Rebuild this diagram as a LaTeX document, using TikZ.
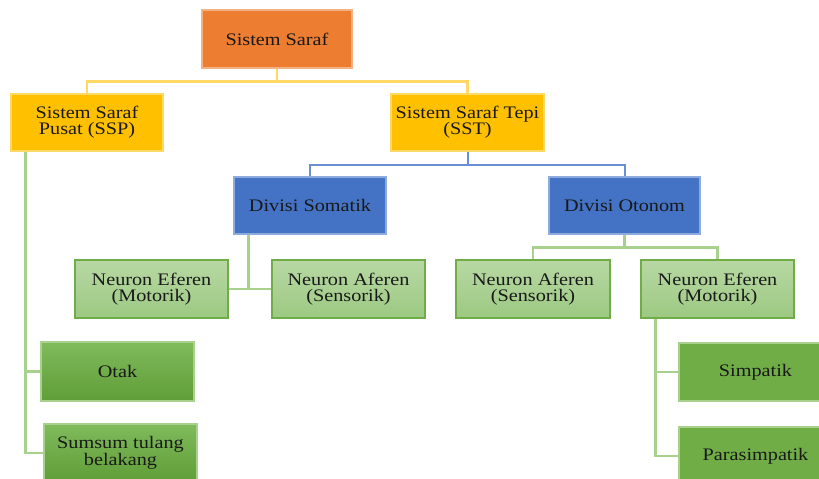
\documentclass[tikz,border=0pt]{standalone}
\usepackage{fontspec}
\setmainfont{Liberation Serif}[FakeStretch=1.15]
\begin{document}
\begin{tikzpicture}[x=1pt,y=-1pt,
  box/.style={rectangle, minimum width=153pt, minimum height=58pt, inner sep=0pt,
    align=center, line width=1.2pt, text=black!90,
    font=\fontsize{17.6}{16}\selectfont},
  rootbox/.style={box, fill=orangeF, draw=orangeB, minimum width=150pt},
  mainbox/.style={box, fill=yellowF, draw=yellowB, minimum height=57pt},
  divbox/.style={box, fill=blueF, draw=blueB, minimum height=57pt},
  neubox/.style={box, top color=lgTop, bottom color=lgBot, draw=lgB},
  organbox/.style={box, top color=dgTop, bottom color=dgBot, draw=dgB, minimum height=59pt},
  leafbox/.style={box, fill=dgFlat, draw=dgB},
  yline/.style={draw=yellowL, line width=2.6pt},
  bline/.style={draw=blueL, line width=2pt},
  gline/.style={draw=greenL, line width=2.4pt}
]
\definecolor{orangeF}{HTML}{ED7D31}
\definecolor{orangeB}{HTML}{F4B183}
\definecolor{yellowF}{HTML}{FFC000}
\definecolor{yellowB}{HTML}{FFD966}
\definecolor{yellowL}{HTML}{FFD966}
\definecolor{blueF}{HTML}{4472C4}
\definecolor{blueB}{HTML}{8FAADC}
\definecolor{blueL}{HTML}{6A8FD3}
\definecolor{lgTop}{HTML}{B8D8A4}
\definecolor{lgBot}{HTML}{9CC982}
\definecolor{lgB}{HTML}{70AD47}
\definecolor{dgTop}{HTML}{80BA5C}
\definecolor{dgBot}{HTML}{5F9E37}
\definecolor{dgFlat}{HTML}{70AD47}
\definecolor{dgB}{HTML}{A9D18E}
\definecolor{greenL}{HTML}{A9D18E}

\useasboundingbox (0,0) rectangle (819,479);
\clip (0,0) rectangle (819,479);

% tree nodes
\node[rootbox] (saraf) at (277,39) {Sistem Saraf};
\node[mainbox, minimum width=152pt] (ssp) at (87,122.5) {Sistem Saraf\\Pusat (SSP)};
\node[mainbox] (sst) at (467.5,122.5) {Sistem Saraf Tepi\\(SST)};
\node[divbox, minimum width=152pt] (somatik) at (310,205.5) {Divisi Somatik};
\node[divbox, minimum width=151pt] (otonom) at (624.5,205.5) {Divisi Otonom};
\node[neubox] (eferenA) at (151.5,289) {Neuron Eferen\\(Motorik)};
\node[neubox] (aferenA) at (348.5,289) {Neuron Aferen\\(Sensorik)};
\node[neubox, minimum width=154pt] (aferenB) at (533,289) {Neuron Aferen\\(Sensorik)};
\node[neubox] (eferenB) at (717.5,289) {Neuron Eferen\\(Motorik)};
\node[organbox] (otak) at (117.5,371.5) {Otak};
\node[organbox, minimum height=58pt] (sumsum) at (120.5,453) {Sumsum tulang\\belakang};
\node[leafbox] (simpatik) at (755.5,372) {Simpatik};
\node[leafbox] (parasimpatik) at (755.5,456) {Parasimpatik};

% connectors
\draw[yline] (saraf.south) -- ++(0,13) -| (ssp.north);
\draw[yline] (saraf.south) -- ++(0,13) -| (sst.north);
\draw[bline] (sst.south) -- ++(0,13) -| (somatik.north);
\draw[bline] (sst.south) -- ++(0,13) -| (otonom.north);
\draw[gline] ([xshift=15pt]somatik.south west) |- (eferenA.east);
\draw[gline] (eferenA.east) -- (aferenA.west);
\draw[gline] (otonom.south) -- ++(0,13) -| (aferenB.north);
\draw[gline] (otonom.south) -- ++(0,13) -| (eferenB.north);
\draw[gline] ([xshift=15pt]ssp.south west) |- (otak.west);
\draw[gline] ([xshift=15pt]ssp.south west) |- (sumsum.west);
\draw[gline] ([xshift=15pt]eferenB.south west) |- (simpatik.west);
\draw[gline] ([xshift=15pt]eferenB.south west) |- (parasimpatik.west);
\end{tikzpicture}
\end{document}
